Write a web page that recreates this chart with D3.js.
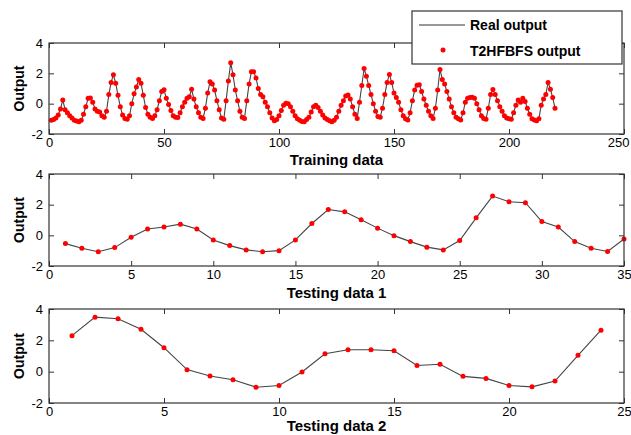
<!DOCTYPE html>
<html>
<head>
<meta charset="utf-8">
<script src="https://cdn.jsdelivr.net/npm/d3@7"></script>
<style>
  body { margin: 0; background: #fff; }
  svg { display: block; font-family: "Liberation Sans", Arial, sans-serif; }
  .tick text { font-size: 13px; fill: #000; }
</style>
</head>
<body>
<svg width="631" height="435"></svg>
<script>
// training data (index 1..220)
const trainValues = [
  -1.1, -1.05, -0.95, -0.75, -0.35, 0.25, -0.4, -0.6, -0.8, -0.95,
  -1.1, -1.15, -1.2, -1.1, -0.7, -0.2, 0.35, 0.38, 0.1, -0.35,
  -0.5, -0.55, -0.8, -0.9, -0.5, 0.6, 1.4, 1.9, 1.35, 0.55,
  -0.2, -0.75, -0.98, -1.03, -0.8, 0.0, 0.65, 1.1, 1.6, 1.35,
  0.55, -0.25, -0.7, -0.9, -0.97, -0.8, -0.4, 0.2, 0.8, 0.92,
  0.35, -0.05, -0.45, -0.8, -0.9, -0.92, -0.6, -0.2, 0.1, 0.35,
  0.45, 0.95, 0.3, -0.2, -0.6, -0.9, -0.97, -0.3, 0.7, 1.44,
  1.3, 0.9, 0.2, -0.4, -0.95, -1.03, 0.2, 1.5, 2.7, 1.9,
  0.9, 0.2, -0.5, -0.9, -0.97, 0.2, 1.3, 2.1, 2.1, 1.7,
  1.0, 0.6, 0.45, 0.1, -0.2, -0.6, -0.95, -1.12, -1.05, -0.8,
  -0.45, -0.1, 0.02, 0.0, -0.2, -0.5, -0.8, -1.0, -1.1, -1.18,
  -1.19, -1.05, -0.9, -0.55, -0.2, -0.1, -0.25, -0.5, -0.75, -0.95,
  -1.05, -1.12, -1.19, -1.1, -0.9, -0.5, -0.1, 0.2, 0.5, 0.57,
  0.3, -0.2, -0.7, -0.97, 0.1, 1.2, 2.32, 1.8, 1.2, 0.6,
  0.0, -0.5, -0.85, -0.9, -0.3, 0.6, 1.4, 1.93, 1.4, 0.7,
  0.4, 0.1, -0.4, -0.8, -1.0, -1.08, -0.6, 0.2, 0.9, 1.22,
  1.25, 0.8, 0.3, -0.1, -0.5, -0.8, -0.97, -0.3, 0.9, 2.26,
  1.6, 1.3, 0.8, 0.3, -0.2, -0.6, -0.9, -1.0, -1.08, -0.6,
  0.1, 0.35, 0.4, 0.42, 0.35, 0.0, -0.4, -0.8, -0.98, -1.03,
  -0.3, 0.6, 0.94, 0.6, 0.2, -0.2, -0.5, -0.8, -0.95, -1.0,
  -1.03, -0.6, -0.1, 0.25, 0.1, 0.35, 0.15, -0.3, -0.7, -1.0,
  -1.08, -1.12, -1.0, -0.1, 0.3, 0.6, 1.4, 0.95, 0.4, -0.3
];

// testing data 1 (index 1..35)
const test1Values = [
  -0.54, -0.84, -1.07, -0.8, -0.13, 0.41, 0.54, 0.73, 0.41, -0.3,
  -0.67, -0.95, -1.07, -1.0, -0.3, 0.77, 1.68, 1.53, 1.01, 0.47,
  -0.02, -0.41, -0.77, -0.95, -0.34, 1.14, 2.56, 2.19, 2.13, 0.9,
  0.54, -0.41, -0.84, -1.05, -0.24
];

// testing data 2 (index 1..24)
const test2Values = [
  2.3, 3.48, 3.38, 2.71, 1.53, 0.13, -0.28, -0.52, -0.99, -0.88,
  -0.02, 1.14, 1.4, 1.4, 1.34, 0.39, 0.47, -0.3, -0.43, -0.88,
  -0.97, -0.6, 1.04, 2.65
];

const yTicks = [-2, 0, 2, 4];
const trainTicks = [0, 50, 100, 150, 200, 250];
const test1Ticks = [0, 5, 10, 15, 20, 25, 30, 35];
const test2Ticks = [0, 5, 10, 15, 20, 25];

const svg = d3.select("svg");
const left = 49, right = 624;
const fmt = d => String(d);

const panels = [
  {values: trainValues, xMax: 250, xTicks: trainTicks, top: 43, bottom: 134, title: "Training data", titleY: 165},
  {values: test1Values, xMax: 35, xTicks: test1Ticks, top: 174, bottom: 266, title: "Testing data 1", titleY: 298},
  {values: test2Values, xMax: 25, xTicks: test2Ticks, top: 309, bottom: 403, title: "Testing data 2", titleY: 431}
];

panels.forEach(p => {
  const x = d3.scaleLinear().domain([0, p.xMax]).range([left, right]);
  const y = d3.scaleLinear().domain([-2, 4]).range([p.bottom, p.top]);
  const pts = p.values.map((v, i) => [i + 1, v]);
  const g = svg.append("g");

  // inner ticks on all sides
  const tl = 5;
  const xa = g.append("g").attr("transform", `translate(0,${p.bottom})`)
    .call(d3.axisBottom(x).tickValues(p.xTicks).tickFormat(fmt).tickSizeInner(-tl).tickSizeOuter(0).tickPadding(4))
    .call(a => a.select(".domain").remove());
  // keep the last label inside the window
  xa.selectAll(".tick text").filter(d => d === p.xMax && d >= 100)
    .attr("text-anchor", "end").attr("dx", 5);
  g.append("g").attr("transform", `translate(0,${p.top})`)
    .call(d3.axisTop(x).tickValues(p.xTicks).tickSizeInner(-tl).tickSizeOuter(0).tickFormat(""))
    .call(a => a.select(".domain").remove());
  g.append("g").attr("transform", `translate(${left},0)`)
    .call(d3.axisLeft(y).tickValues(yTicks).tickFormat(fmt).tickSizeInner(-tl).tickSizeOuter(0).tickPadding(6))
    .call(a => a.select(".domain").remove());
  g.append("g").attr("transform", `translate(${right},0)`)
    .call(d3.axisRight(y).tickValues(yTicks).tickSizeInner(-tl).tickSizeOuter(0).tickFormat(""))
    .call(a => a.select(".domain").remove());
  g.selectAll(".tick line").attr("stroke", "#333");

  g.append("path")
    .datum(pts)
    .attr("fill", "none")
    .attr("stroke", "#444")
    .attr("stroke-width", 1.1)
    .attr("d", d3.line().x(d => x(d[0])).y(d => y(d[1])));

  g.selectAll("circle.pt")
    .data(pts)
    .enter().append("circle")
    .attr("class", "pt")
    .attr("cx", d => x(d[0]))
    .attr("cy", d => y(d[1]))
    .attr("r", 2.5)
    .attr("fill", "#ff0000");

  g.append("rect")
    .attr("x", left).attr("y", p.top)
    .attr("width", right - left).attr("height", p.bottom - p.top)
    .attr("fill", "none").attr("stroke", "#333").attr("stroke-width", 1.2);

  g.append("text")
    .attr("x", (left + right) / 2)
    .attr("y", p.titleY)
    .attr("text-anchor", "middle")
    .attr("font-weight", "bold")
    .attr("font-size", 15)
    .text(p.title);

  g.append("text")
    .attr("transform", `translate(24,${(p.top + p.bottom) / 2}) rotate(-90)`)
    .attr("text-anchor", "middle")
    .attr("font-weight", "bold")
    .attr("font-size", 14)
    .text("Output");
});

// legend
const legend = svg.append("g").attr("transform", "translate(412,11)");
legend.append("rect")
  .attr("width", 210).attr("height", 53)
  .attr("fill", "#fff").attr("stroke", "#333").attr("stroke-width", 1.2);
legend.append("line")
  .attr("x1", 7).attr("x2", 53).attr("y1", 14).attr("y2", 14)
  .attr("stroke", "#333").attr("stroke-width", 1.1);
legend.append("text").attr("x", 58).attr("y", 19)
  .attr("font-size", 14).attr("font-weight", "bold").text("Real output");
legend.append("circle").attr("cx", 31).attr("cy", 39).attr("r", 2.5).attr("fill", "#ff0000");
legend.append("text").attr("x", 58).attr("y", 45)
  .attr("font-size", 14).attr("font-weight", "bold").text("T2HFBFS output");
</script>
</body>
</html>
